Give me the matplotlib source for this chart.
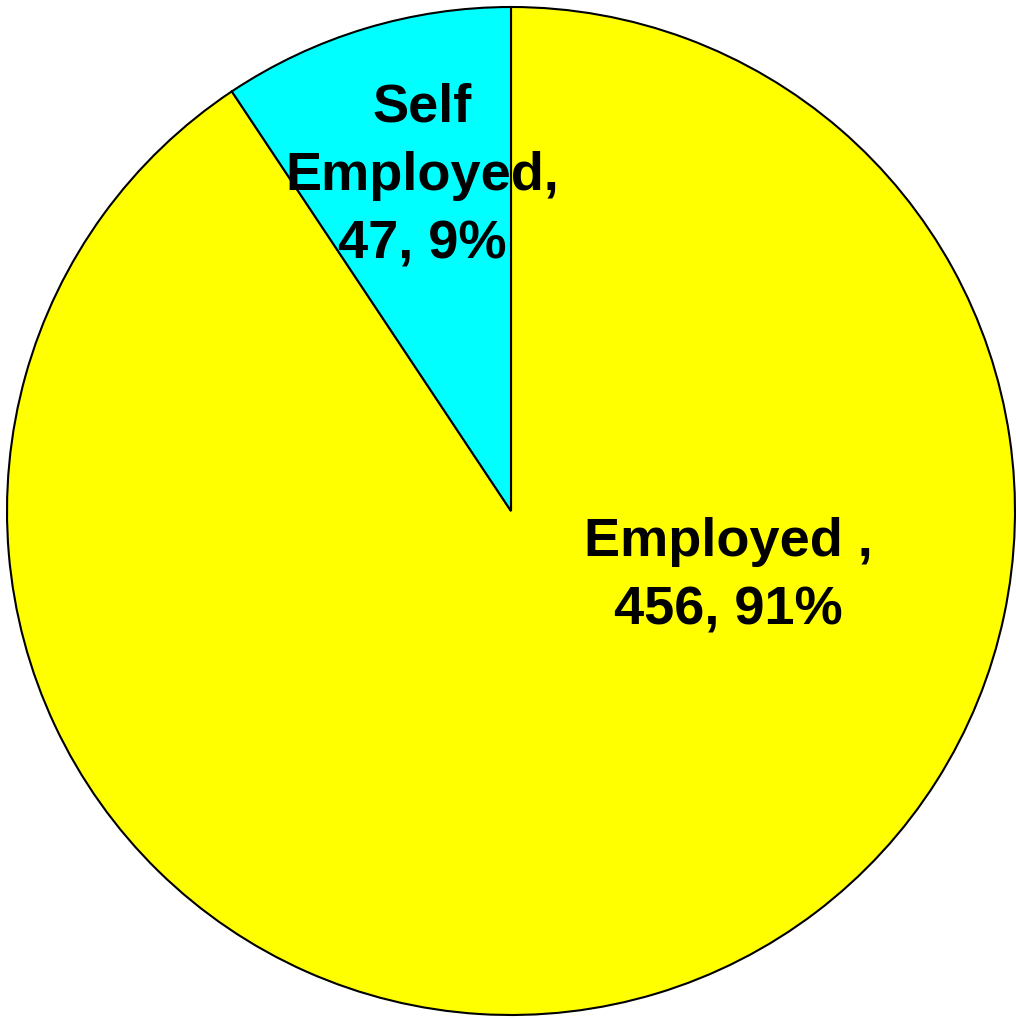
import matplotlib
matplotlib.use("Agg")
import matplotlib.pyplot as plt

categories = ["Employed ,", "Self\nEmployed,"]
counts = [456, 47]
colors = ["#FFFF00", "#00FFFF"]

plt.rcParams["font.family"] = ["Liberation Sans", "DejaVu Sans"]

fig = plt.figure(figsize=(10.16, 10.20), dpi=100)
r = 504
cx, cy = 511, 1020 - 512
ax = fig.add_axes([(cx - r) / 1016, (cy - r) / 1020, 2 * r / 1016, 2 * r / 1020])

ax.pie(counts, colors=colors, startangle=90, counterclock=False,
       wedgeprops=dict(edgecolor="black", linewidth=1.5), radius=1)
ax.set_xlim(-1, 1)
ax.set_ylim(-1, 1)
ax.set_aspect("auto")

total = sum(counts)
label_pos = [(0.432, -0.128), (-0.176, 0.667)]
for name, n, (x, y) in zip(categories, counts, label_pos):
    pct = round(100 * n / total)
    ax.text(x, y, f"{name}\n{n}, {pct}%", ha="center", va="center",
            fontsize=39, fontweight="bold", linespacing=1.48)

fig.savefig("out.png", dpi=100)
